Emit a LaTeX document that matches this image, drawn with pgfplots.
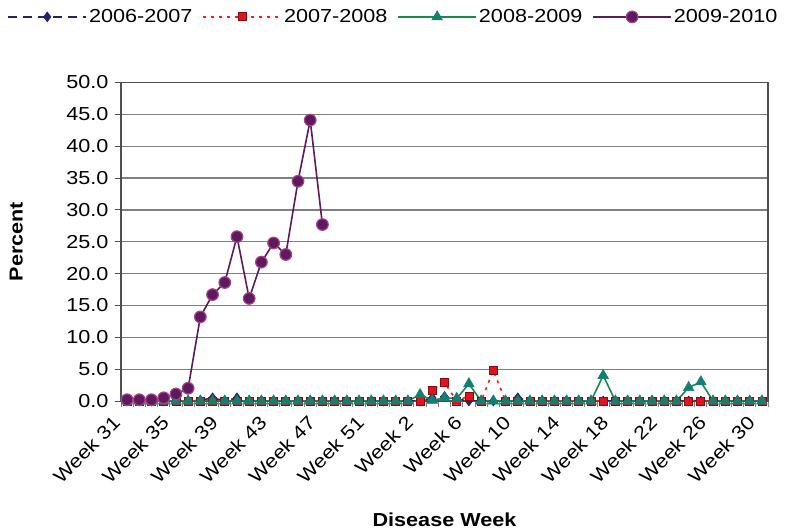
\documentclass[border=0pt]{standalone}
\usepackage{pgfplots}
\pgfplotsset{compat=1.18}
\usepackage{fontspec}
\setmainfont{Liberation Sans}[FakeStretch=1.15]
\definecolor{navyc}{HTML}{22246A}
\definecolor{redl}{HTML}{FF1A1A}
\definecolor{redf}{HTML}{E0141C}
\definecolor{redb}{HTML}{8A0A10}
\definecolor{greenl}{HTML}{1A8A48}
\definecolor{greenf}{HTML}{128070}
\definecolor{purl}{HTML}{5A1A5C}
\definecolor{purf}{HTML}{5E1A60}
\definecolor{purb}{HTML}{A64582}
\definecolor{gridc}{HTML}{808080}
\definecolor{axc}{HTML}{505050}
\newcommand{\chf}{\fontsize{18.8bp}{22bp}\selectfont}
\begin{document}
\begin{tikzpicture}
\useasboundingbox (0,0) rectangle (786bp,531bp);
\begin{axis}[
  at={(121bp,130bp)}, anchor=south west,
  scale only axis, width=647bp, height=318.5bp,
  xmin=-0.5, xmax=52.5, ymin=0, ymax=50,
  xtick={0,4,...,52},
  xticklabels={Week 31,Week 35,Week 39,Week 43,Week 47,Week 51,Week 2,Week 6,Week 10,Week 14,Week 18,Week 22,Week 26,Week 30},
  minor xtick={-0.5,0.5,...,52.5},
  ytick={0,5,...,50},
  xtick pos=bottom, ytick pos=left,
  tick align=outside,
  major tick length=6bp, minor tick length=6bp,
  major x tick style={draw=none},
  minor x tick style={gridc, line width=1bp},
  y tick style={axc, line width=1bp},
  ymajorgrids, major grid style={gridc, line width=1.2bp},
  axis line style={gridc, line width=1.2bp},
  y axis line style={axc},
  x axis line style={axc},
  tick label style={font=\chf, black},
  /pgf/number format/assume math mode=true,
  yticklabel style={/pgf/number format/fixed, /pgf/number format/fixed zerofill, /pgf/number format/precision=1, xshift=-3bp},
  xticklabel style={xshift=-8bp, yshift=-10bp, rotate=45, anchor=east},
  xlabel={\textbf{Disease Week}},
  ylabel={\textbf{Percent}},
  xlabel style={font=\chf, at={(axis description cs:0.5,-0.374)}, anchor=center},
  ylabel style={font=\chf, at={(axis description cs:-0.162,0.5)}, anchor=center},
  legend columns=4,
  legend style={draw=none, fill=none, font=\chf, at={(axis description cs:0.421,1.206)}, anchor=center,
    /tikz/every even column/.append style={column sep=8bp}},
  legend image code/.code={\draw[mark repeat=2,mark phase=2] plot coordinates {(0bp,0bp) (39bp,0bp) (78bp,0bp)};},
]
% 2006-2007
\addplot[navyc, line width=1.6bp, dash pattern=on 9bp off 6bp, mark=diamond*, mark size=5bp,
  mark options={solid, fill=navyc, draw=navyc, line width=0.5bp}] coordinates {
(0,0)(1,0)(2,0)(3,0)(4,0)(5,0)(6,0.1)(7,0.5)(8,0)(9,0.5)(10,0)(11,0)(12,0)(13,0)(14,0)(15,0)(16,0)(17,0)(18,0)(19,0)(20,0)(21,0)(22,0)(23,0)(24,0)(25,0.5)(26,0.7)(27,0.3)(28,0)(29,0)(30,0)(31,0)(32,0.5)(33,0)(34,0)(35,0)(36,0)(37,0)(38,0)(39,0)(40,0)(41,0)(42,0)(43,0)(44,0)(45,0)(46,0)(47,0)(48,0)(49,0)(50,0)(51,0)(52,0)};
\addlegendentry{2006-2007}
% 2007-2008
\addplot[redl, line width=1.6bp, dash pattern=on 3bp off 5bp, mark=square*, mark size=4bp,
  mark options={solid, fill=redf, draw=redb, line width=0.8bp}] coordinates {
(0,0)(1,0)(2,0)(3,0)(4,0)(5,0)(6,0)(7,0)(8,0)(9,0)(10,0)(11,0)(12,0)(13,0)(14,0)(15,0)(16,0)(17,0)(18,0)(19,0)(20,0)(21,0)(22,0)(23,0)(24,0)(25,1.7)(26,2.9)(27,0)(28,0.8)(29,0)(30,4.8)(31,0)(32,0)(33,0)(34,0)(35,0)(36,0)(37,0)(38,0)(39,0)(40,0)(41,0)(42,0)(43,0)(44,0)(45,0)(46,0)(47,0)(48,0)(49,0)(50,0)(51,0)(52,0)};
\addlegendentry{2007-2008}
% 2008-2009
\addplot[greenl, line width=1.6bp, mark=triangle*, mark size=6.2bp,
  mark options={solid, fill=greenf, draw=greenf, line width=0.5bp}] coordinates {
(0,0)(1,0)(2,0)(3,0)(4,0)(5,0)(6,0)(7,0)(8,0)(9,0)(10,0)(11,0)(12,0)(13,0)(14,0)(15,0)(16,0)(17,0)(18,0)(19,0)(20,0)(21,0)(22,0)(23,0)(24,1.0)(25,0.1)(26,0.5)(27,0.4)(28,2.7)(29,0)(30,0)(31,0)(32,0)(33,0)(34,0)(35,0)(36,0)(37,0)(38,0)(39,4.0)(40,0)(41,0)(42,0)(43,0)(44,0)(45,0)(46,2.1)(47,3.0)(48,0)(49,0)(50,0)(51,0)(52,0)};
\addlegendentry{2008-2009}
% 2009-2010
\addplot[purl, line width=1.6bp, mark=*, mark size=5.8bp,
  mark options={solid, fill=purf, draw=purb, line width=1.2bp}] coordinates {
(0,0.2)(1,0.2)(2,0.2)(3,0.5)(4,1.1)(5,2.0)(6,13.2)(7,16.7)(8,18.6)(9,25.8)(10,16.1)(11,21.8)(12,24.8)(13,23.0)(14,34.5)(15,44.1)(16,27.7)};
\addlegendentry{2009-2010}
\end{axis}
\end{tikzpicture}
\end{document}
